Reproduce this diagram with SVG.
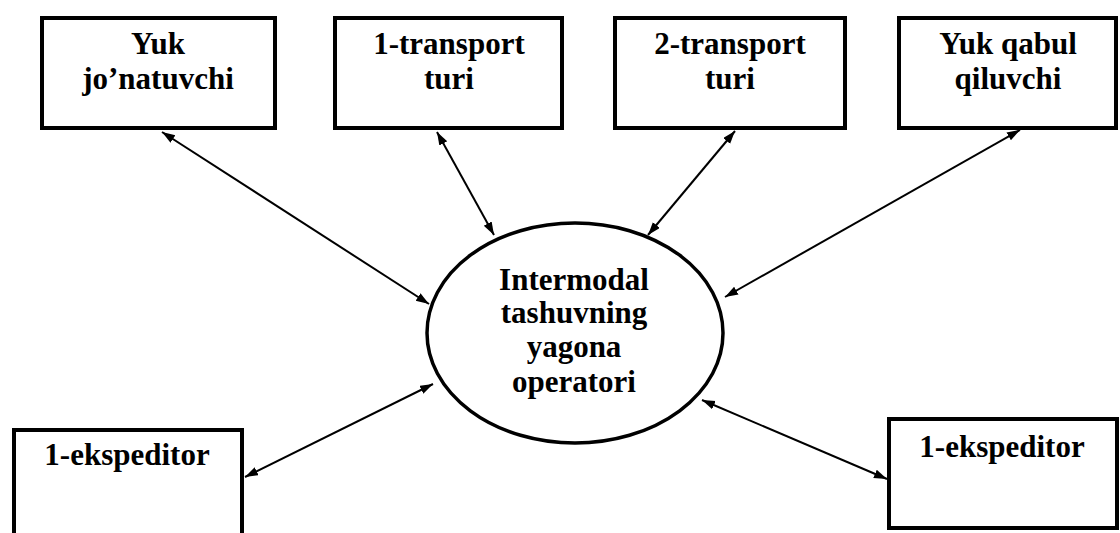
<svg xmlns="http://www.w3.org/2000/svg" width="1120" height="533" viewBox="0 0 1120 533">
<style>
.box{fill:#fff;stroke:#000;stroke-width:4}
.ell{fill:#fff;stroke:#000;stroke-width:3.5}
.t{font-family:"Liberation Serif","Times New Roman","DejaVu Serif",serif;font-weight:bold;font-size:31px;fill:#000;text-anchor:middle}
.c{stroke:#000;stroke-width:2;fill:none;marker-start:url(#ah);marker-end:url(#ah)}
</style>
<defs>
<marker id="ah" markerUnits="userSpaceOnUse" markerWidth="14" markerHeight="10" refX="13" refY="4.5" orient="auto-start-reverse">
<path d="M0,0 L13,4.5 L0,9 z" fill="#000"/>
</marker>
</defs>
<rect width="1120" height="533" fill="#fff"/>
<g id="connectors">
<line class="c" x1="162" y1="132" x2="429" y2="304"/>
<line class="c" x1="437" y1="132" x2="494" y2="235"/>
<line class="c" x1="735" y1="131" x2="648" y2="235"/>
<line class="c" x1="1020" y1="130" x2="725" y2="297"/>
<line class="c" x1="245" y1="477" x2="433" y2="384"/>
<line class="c" x1="887" y1="479" x2="702" y2="400"/>
</g>
<g id="n1"><rect class="box" x="42" y="18" width="233" height="110"/><text class="t" x="158" y="54">Yuk</text><text class="t" x="158" y="89">jo’natuvchi</text></g>
<g id="n2"><rect class="box" x="335" y="18" width="227" height="110"/><text class="t" x="449" y="54">1-transport</text><text class="t" x="449" y="89">turi</text></g>
<g id="n3"><rect class="box" x="615" y="18" width="230" height="110"/><text class="t" x="730" y="54">2-transport</text><text class="t" x="730" y="89">turi</text></g>
<g id="n4"><rect class="box" x="899" y="18" width="217" height="110"/><text class="t" x="1008" y="54">Yuk qabul</text><text class="t" x="1008" y="89">qiluvchi</text></g>
<g id="center"><ellipse class="ell" cx="575" cy="333" rx="148" ry="110"/><text class="t" x="574" y="290">Intermodal</text><text class="t" x="574" y="323">tashuvning</text><text class="t" x="574" y="357">yagona</text><text class="t" x="574" y="392">operatori</text></g>
<g id="n5"><rect class="box" x="14" y="430" width="228" height="110"/><text class="t" x="127" y="465">1-ekspeditor</text></g>
<g id="n6"><rect class="box" x="889" y="419" width="228" height="109"/><text class="t" x="1002" y="457">1-ekspeditor</text></g>
</svg>
